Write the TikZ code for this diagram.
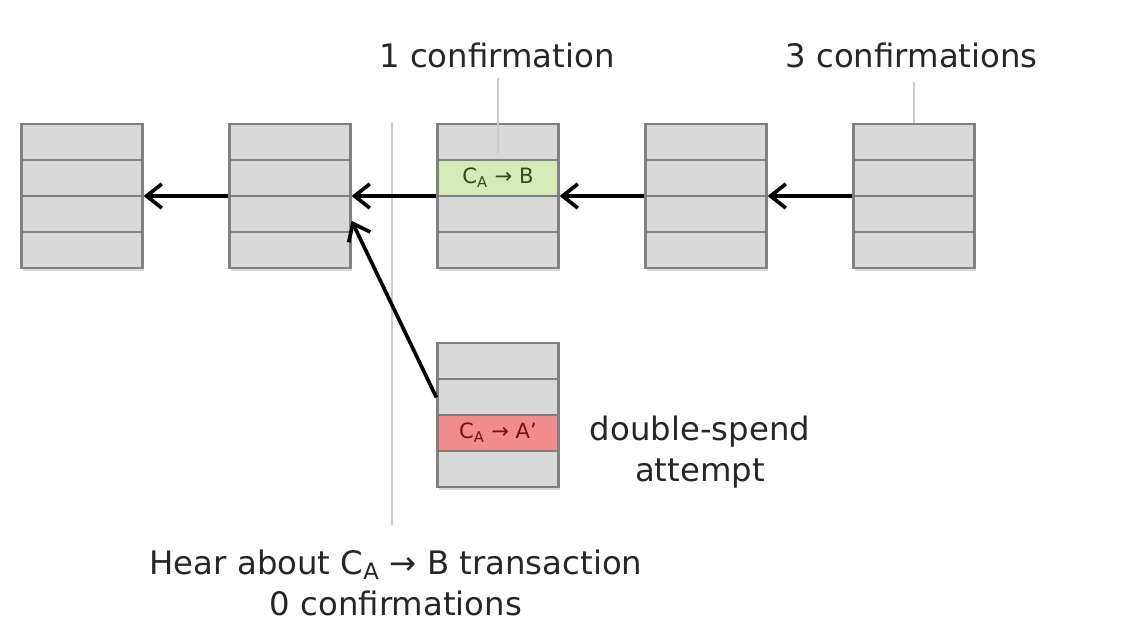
\documentclass[tikz,border=0pt]{standalone}
\usepackage{fontspec}
\setmainfont{DejaVu Sans}
\usetikzlibrary{arrows.meta,calc,shadows}
\definecolor{grigioblocco}{RGB}{217,217,217}
\definecolor{bordoblocco}{RGB}{128,128,128}
\definecolor{verdetx}{RGB}{214,234,184}
\definecolor{verdescuro}{RGB}{50,72,22}
\definecolor{rossotx}{RGB}{242,140,140}
\definecolor{rossoscuro}{RGB}{112,18,18}
\begin{document}
\begin{tikzpicture}[
    blocco/.style={draw=bordoblocco,line width=1.6pt,fill=grigioblocco,minimum width=3.025cm,minimum height=3.6cm,inner sep=0pt,
      drop shadow={shadow xshift=1pt,shadow yshift=-2pt,opacity=0.3}},
    riga/.style={draw=bordoblocco,line width=1.6pt,minimum width=3.025cm,minimum height=0.9cm,inner sep=0pt,font=\fontsize{15}{18}\selectfont},
    freccia/.style={-{Straight Barb[length=3.8mm,width=6mm]},line width=2.6pt},
    guida/.style={draw=black!20,line width=0.8pt},
    testo/.style={font=\fontsize{23}{29}\selectfont,text=black!85,align=center}
  ]
  \useasboundingbox (0,0) rectangle (28.075,16.025);
  %separatore
  \draw[guida] (9.8,12.975) -- (9.8,2.9);
  %blocchi
  \node[blocco] (b1) at (2.05,11.125) {};
  \node[blocco] (b2) at (7.25,11.125) {};
  \node[blocco] (b3) at (12.45,11.125) {};
  \node[blocco] (b4) at (17.65,11.125) {};
  \node[blocco] (b5) at (22.85,11.125) {};
  \node[blocco] (ds) at (12.45,5.65) {};
  %righe
  \foreach \b in {b1,b2,b3,b4,b5,ds}
    \foreach \d in {-0.9,0,0.9}
      \draw[bordoblocco,line width=1.4pt] ([yshift=\d cm]\b.west) -- ([yshift=\d cm]\b.east);
  %transazioni
  \node[riga,fill=verdetx,text=verdescuro] (txb) at ([yshift=0.45cm]b3.center) {C\textsubscript{A} → B};
  \node[riga,fill=rossotx,text=rossoscuro] (txa) at ([yshift=-0.45cm]ds.center) {C\textsubscript{A} → A’};
  %frecce
  \draw[freccia] (b2.west) -- (b1.east);
  \draw[freccia] (b3.west) -- (b2.east);
  \draw[freccia] (b4.west) -- (b3.east);
  \draw[freccia] (b5.west) -- (b4.east);
  \draw[freccia] ($(ds.north west)!0.38!(ds.south west)$) -- ($(b2.north east)!0.67!(b2.south east)$);
  %nomi
  \node[testo] (uno) at (12.425,14.65) {1 confirmation};
  \node[testo] (tre) at (22.79,14.65) {3 confirmations};
  \draw[guida] ([yshift=-0.15cm]b3.north |- uno.south) -- ([yshift=-0.775cm]b3.north);
  \draw[guida] ([yshift=-0.25cm]b5.north |- tre.south) -- (b5.north);
  \node[testo] (doppia) at (17.5,4.725) {double-spend\\attempt};
  \node[testo] (zero) at (9.9,1.46) {Hear about C\textsubscript{A} → B transaction\\0 confirmations};
\end{tikzpicture}
\end{document}
